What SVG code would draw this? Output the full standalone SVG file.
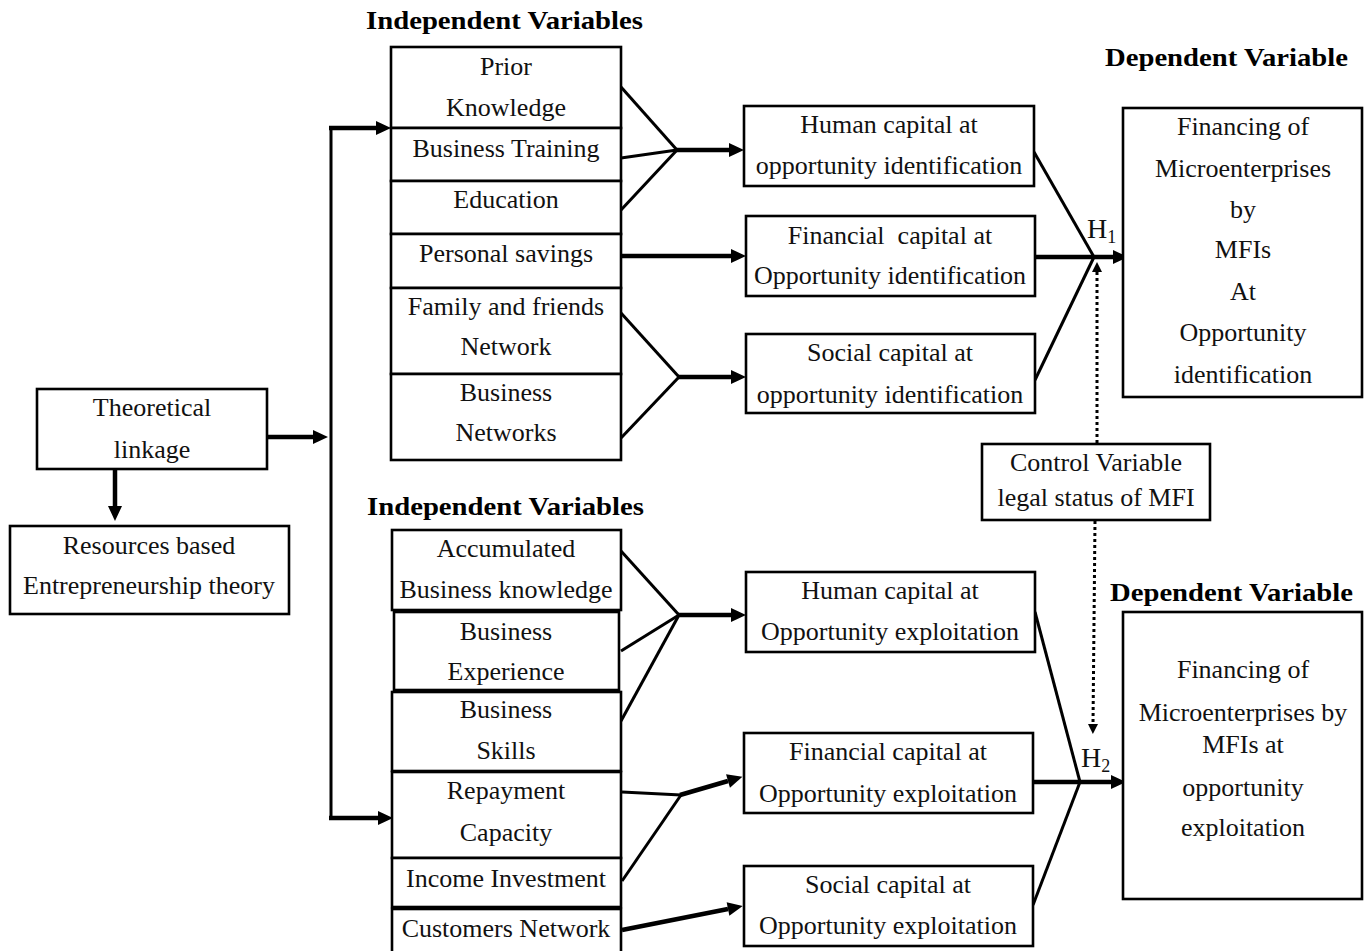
<svg xmlns="http://www.w3.org/2000/svg" width="1371" height="951" viewBox="0 0 1371 951">
<defs>
<marker id="ah" markerUnits="userSpaceOnUse" markerWidth="16" markerHeight="14" refX="0" refY="7" orient="auto" overflow="visible">
<path d="M0,0 L15,7 L0,14 Z" fill="#000"/>
</marker>
<marker id="ahs" markerUnits="userSpaceOnUse" markerWidth="12" markerHeight="12" refX="0" refY="5" orient="auto" overflow="visible">
<path d="M0,0 L10,5 L0,10 Z" fill="#000"/>
</marker>
</defs>
<style>
.box{fill:#fff;stroke:#000;stroke-width:2.6}
.t{font-family:"Liberation Serif","Times New Roman",serif;font-size:26px;fill:#111;text-anchor:middle}
.h{font-family:"Liberation Serif","Times New Roman",serif;font-size:26px;font-weight:bold;fill:#000}
.ln{stroke:#000;stroke-width:3;fill:none}
.ar{stroke:#000;stroke-width:4.5;fill:none;marker-end:url(#ah)}
.dot{stroke:#000;stroke-width:3;stroke-dasharray:3,3;fill:none;marker-end:url(#ahs)}
</style>
<rect width="1371" height="951" fill="#fff"/>

<text class="h" x="366" y="29" textLength="277" lengthAdjust="spacingAndGlyphs">Independent Variables</text>
<text class="h" x="367" y="515" textLength="277" lengthAdjust="spacingAndGlyphs">Independent Variables</text>
<text class="h" x="1105" y="66" textLength="243" lengthAdjust="spacingAndGlyphs">Dependent Variable</text>
<text class="h" x="1110" y="601" textLength="243" lengthAdjust="spacingAndGlyphs">Dependent Variable</text>

<g id="connectors">
<line class="ar" x1="267" y1="437" x2="313" y2="437"/>
<line class="ar" x1="115" y1="469" x2="115" y2="506"/>
<polyline class="ln" points="331,818 331,128"/>
<line class="ar" x1="329" y1="128" x2="376" y2="128"/>
<line class="ar" x1="329" y1="818" x2="378" y2="818"/>
<line class="ln" x1="621" y1="87" x2="677" y2="150"/>
<line class="ln" x1="621" y1="158" x2="677" y2="150"/>
<line class="ln" x1="621" y1="210" x2="677" y2="150"/>
<line class="ar" x1="676" y1="150" x2="729" y2="150"/>
<line class="ar" x1="621" y1="256" x2="731" y2="256"/>
<line class="ln" x1="621" y1="313" x2="679" y2="377"/>
<line class="ln" x1="621" y1="438" x2="679" y2="377"/>
<line class="ar" x1="678" y1="377" x2="731" y2="377"/>
<line class="ln" x1="1034" y1="152" x2="1094" y2="257"/>
<line class="ln" x1="1035" y1="380" x2="1094" y2="257"/>
<line class="ar" x1="1035" y1="257" x2="1113" y2="257"/>
<line class="dot" x1="1097" y1="443" x2="1097" y2="272"/>
<line class="dot" x1="1095" y1="521" x2="1093" y2="724"/>
<line class="ln" x1="621" y1="551" x2="679" y2="615"/>
<line class="ln" x1="621" y1="651" x2="679" y2="615"/>
<line class="ln" x1="621" y1="721" x2="679" y2="615"/>
<line class="ar" x1="678" y1="615" x2="731" y2="615"/>
<line class="ln" x1="622" y1="792" x2="681" y2="795"/>
<line class="ln" x1="622" y1="881" x2="681" y2="795"/>
<line class="ar" x1="680" y1="795" x2="728" y2="781"/>
<line class="ar" x1="622" y1="930" x2="728" y2="909"/>
<line class="ln" x1="1035" y1="612" x2="1080" y2="782"/>
<line class="ln" x1="1033" y1="905" x2="1080" y2="782"/>
<line class="ar" x1="1033" y1="782" x2="1111" y2="782"/>
</g>

<g id="n-theoretical">
<rect class="box" x="37" y="389" width="230" height="80"/>
<text class="t" x="152" y="416">Theoretical</text>
<text class="t" x="152" y="458">linkage</text>
</g>
<g id="n-resources">
<rect class="box" x="10" y="526" width="279" height="88"/>
<text class="t" x="149" y="554">Resources based</text>
<text class="t" x="149" y="594">Entrepreneurship theory</text>
</g>

<g id="n-prior"><rect class="box" x="391" y="47" width="230" height="81"/>
<text class="t" x="506" y="75">Prior</text><text class="t" x="506" y="116">Knowledge</text></g>
<g id="n-training"><rect class="box" x="391" y="128" width="230" height="53"/>
<text class="t" x="506" y="157">Business Training</text></g>
<g id="n-education"><rect class="box" x="391" y="181" width="230" height="53"/>
<text class="t" x="506" y="208">Education</text></g>
<g id="n-savings"><rect class="box" x="391" y="234" width="230" height="54"/>
<text class="t" x="506" y="262">Personal savings</text></g>
<g id="n-family"><rect class="box" x="391" y="288" width="230" height="86"/>
<text class="t" x="506" y="315">Family and friends</text><text class="t" x="506" y="355">Network</text></g>
<g id="n-busnet"><rect class="box" x="391" y="374" width="230" height="86"/>
<text class="t" x="506" y="401">Business</text><text class="t" x="506" y="441">Networks</text></g>

<g id="n-hc1"><rect class="box" x="744" y="106" width="290" height="80"/>
<text class="t" x="889" y="133">Human capital at</text><text class="t" x="889" y="174">opportunity identification</text></g>
<g id="n-fc1"><rect class="box" x="746" y="216" width="289" height="80"/>
<text class="t" x="890" y="244" style="white-space:pre">Financial  capital at</text><text class="t" x="890" y="284">Opportunity identification</text></g>
<g id="n-sc1"><rect class="box" x="746" y="334" width="289" height="79"/>
<text class="t" x="890" y="361">Social capital at</text><text class="t" x="890" y="403">opportunity identification</text></g>

<g id="n-h1"><text class="t" x="1087" y="238" style="text-anchor:start;font-size:28px">H<tspan font-size="18" dy="5">1</tspan></text></g>
<g id="n-h2"><text class="t" x="1081" y="767" style="text-anchor:start;font-size:28px">H<tspan font-size="18" dy="5">2</tspan></text></g>

<g id="n-dep1"><rect class="box" x="1123" y="108" width="239" height="289"/>
<text class="t" x="1243" y="135">Financing of</text>
<text class="t" x="1243" y="177">Microenterprises</text>
<text class="t" x="1243" y="218">by</text>
<text class="t" x="1243" y="258">MFIs</text>
<text class="t" x="1243" y="300">At</text>
<text class="t" x="1243" y="341">Opportunity</text>
<text class="t" x="1243" y="383">identification</text></g>

<g id="n-control"><rect class="box" x="982" y="444" width="228" height="76"/>
<text class="t" x="1096" y="471">Control Variable</text>
<text class="t" x="1096" y="506">legal status of MFI</text></g>

<g id="n-accum"><rect class="box" x="392" y="530" width="229" height="80"/>
<text class="t" x="506" y="557">Accumulated</text><text class="t" x="506" y="598">Business knowledge</text></g>
<g id="n-exp"><rect class="box" x="394" y="612" width="225" height="78"/>
<text class="t" x="506" y="640">Business</text><text class="t" x="506" y="680">Experience</text></g>
<g id="n-skills"><rect class="box" x="392" y="692" width="229" height="79"/>
<text class="t" x="506" y="718">Business</text><text class="t" x="506" y="759">Skills</text></g>
<g id="n-repay"><rect class="box" x="392" y="772" width="229" height="86"/>
<text class="t" x="506" y="799">Repayment</text><text class="t" x="506" y="841">Capacity</text></g>
<g id="n-income"><rect class="box" x="392" y="858" width="229" height="49"/>
<text class="t" x="506" y="887">Income Investment</text></g>
<g id="n-cust"><rect class="box" x="392" y="909" width="229" height="50"/>
<text class="t" x="506" y="937">Customers Network</text></g>

<g id="n-hc2"><rect class="box" x="746" y="572" width="289" height="80"/>
<text class="t" x="890" y="599">Human capital at</text><text class="t" x="890" y="640">Opportunity exploitation</text></g>
<g id="n-fc2"><rect class="box" x="744" y="733" width="289" height="80"/>
<text class="t" x="888" y="760">Financial capital at</text><text class="t" x="888" y="802">Opportunity exploitation</text></g>
<g id="n-sc2"><rect class="box" x="744" y="866" width="289" height="80"/>
<text class="t" x="888" y="893">Social capital at</text><text class="t" x="888" y="934">Opportunity exploitation</text></g>

<g id="n-dep2"><rect class="box" x="1123" y="612" width="239" height="287"/>
<text class="t" x="1243" y="678">Financing of</text>
<text class="t" x="1243" y="721">Microenterprises by</text>
<text class="t" x="1243" y="753">MFIs at</text>
<text class="t" x="1243" y="796">opportunity</text>
<text class="t" x="1243" y="836">exploitation</text></g>
</svg>
